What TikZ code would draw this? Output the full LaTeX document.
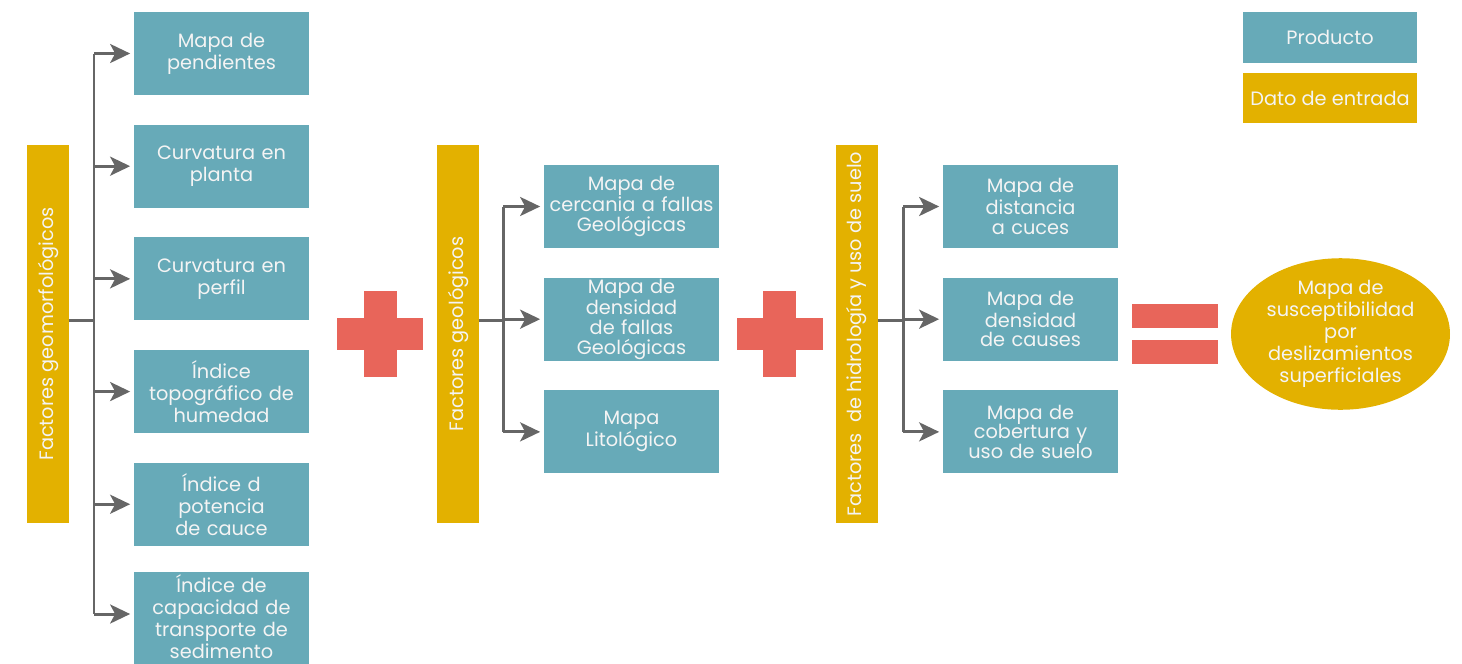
\documentclass[tikz,border=0pt]{standalone}
\usepackage{fontspec}
\setmainfont{Poppins}
\usetikzlibrary{shapes.geometric, arrows.meta, positioning, calc}

\definecolor{tealbox}{HTML}{67AAB8}
\definecolor{goldbox}{HTML}{E3B100}
\definecolor{redsign}{HTML}{E8655A}
\definecolor{arrowgray}{HTML}{666666}
\definecolor{boxtext}{HTML}{F4F4F4}

\begin{document}
\begin{tikzpicture}[
    x=0.02cm, y=-0.02cm,
    node distance=0.58cm,
    every node/.style={font=\fontsize{11}{12.5}\selectfont, text=boxtext},
    product/.style={rectangle, minimum width=3.5cm, minimum height=1.66cm, text width=3.3cm, align=center, fill=tealbox, inner sep=0pt},
    tight/.style={font=\fontsize{11}{11.2}\selectfont},
    factor/.style={rectangle, rotate=90, minimum width=7.56cm, minimum height=0.84cm, fill=goldbox, inner sep=0pt},
    legend/.style={rectangle, minimum width=3.48cm, minimum height=1.02cm, inner sep=0pt},
    result/.style={ellipse, minimum width=4.38cm, minimum height=3cm, fill=goldbox, align=center, inner sep=0pt},
    sign/.style={fill=redsign, draw=none},
    line/.style={draw=arrowgray, line width=1.7pt},
    arrow/.style={line, -{Stealth[length=0.4cm, width=0.38cm, inset=0.1cm]}, shorten >=2pt},
]
    \useasboundingbox (0,0) rectangle (1462,663);

    % factores geomorfologicos
    \node (geomorf) [factor] at (48,334) {Factores geomorfológicos};
    \node (pend) [product] at (221.5,53.5) {Mapa de\\pendientes};
    \node (cplanta) [product, below=of pend] {Curvatura en\\planta};
    \node (cperfil) [product, below=of cplanta] {Curvatura en\\perfil};
    \node (humedad) [product, below=of cperfil] {Índice\\topográfico de\\humedad};
    \node (potencia) [product, below=of humedad] {Índice d\\potencia\\de cauce};
    \node (sedim) [product, anchor=north, minimum height=1.96cm] at (221.5,572) {};
    \node (sedim_txt) [align=center, text width=3.3cm, inner sep=0pt] at ($(sedim.center)+(0,-5)$) {Índice de\\capacidad de\\transporte de\\sedimento};

    % factores geologicos
    \node (geolog) [factor] at (458,334) {Factores geológicos};
    \node (cercania) [product, tight] at (631.5,206.5) {Mapa de\\cercania a fallas\\Geológicas};
    \node (dfallas) [product, tight, below=of cercania] {Mapa de\\densidad\\de fallas\\Geológicas};
    \node (litol) [product, tight, below=of dfallas] {Mapa\\Litológico};

    % factores de hidrologia y uso de suelo
    \node (hidro) [factor] at (857,334) {Factores\ \ de hidrología y uso de suelo};
    \node (cuces) [product, tight] at (1030.5,206.5) {Mapa de\\distancia\\a cuces};
    \node (causes) [product, tight, below=of cuces] {Mapa de\\densidad\\de causes};
    \node (cobert) [product, tight, below=of causes] {Mapa de\\cobertura y\\uso de suelo};

    % resultado
    \node (suscep) [result] at (1340.5,334) {Mapa de\\susceptibilidad\\por\\deslizamientos\\superficiales};

    % leyenda
    \node (leg_prod) [legend, fill=tealbox] at (1330,37.5) {Producto};
    \node (leg_dato) [legend, fill=goldbox] at (1330,98) {Dato de entrada};

    % signos
    \coordinate (plus1) at (380,334);
    \coordinate (plus2) at (779.5,334);
    \coordinate (equal) at (1175,334);
    \foreach \p in {plus1, plus2} {
        \fill[sign] ($(\p)+(-43,-16)$) rectangle ($(\p)+(43,16)$);
        \fill[sign] ($(\p)+(-16.5,-43)$) rectangle ($(\p)+(16.5,43)$);
    }
    \fill[sign] ($(equal)+(-43,-30)$) rectangle ($(equal)+(43,-6)$);
    \fill[sign] ($(equal)+(-43,6)$) rectangle ($(equal)+(43,30)$);

    % conectores
    \coordinate (t1) at (94,320);
    \coordinate (t2) at (503,320);
    \coordinate (t3) at (903,320);
    \coordinate (last1) at (94,614);

    \draw [line] (geomorf.south |- t1) -- (t1);
    \draw [line] (t1 |- pend) -- (last1);
    \foreach \n in {pend, cplanta, cperfil, humedad, potencia}
        \draw [arrow] (t1 |- \n) -- (\n.west);
    \draw [arrow] (last1) -- (last1 -| sedim.west);

    \draw [line] (geolog.south |- t2) -- (t2);
    \draw [line] (t2 |- cercania) -- (t2 |- litol);
    \foreach \n in {cercania, dfallas, litol}
        \draw [arrow] (t2 |- \n) -- (\n.west);

    \draw [line] (hidro.south |- t3) -- (t3);
    \draw [line] (t3 |- cuces) -- (t3 |- cobert);
    \foreach \n in {cuces, causes, cobert}
        \draw [arrow] (t3 |- \n) -- (\n.west);

\end{tikzpicture}
\end{document}
